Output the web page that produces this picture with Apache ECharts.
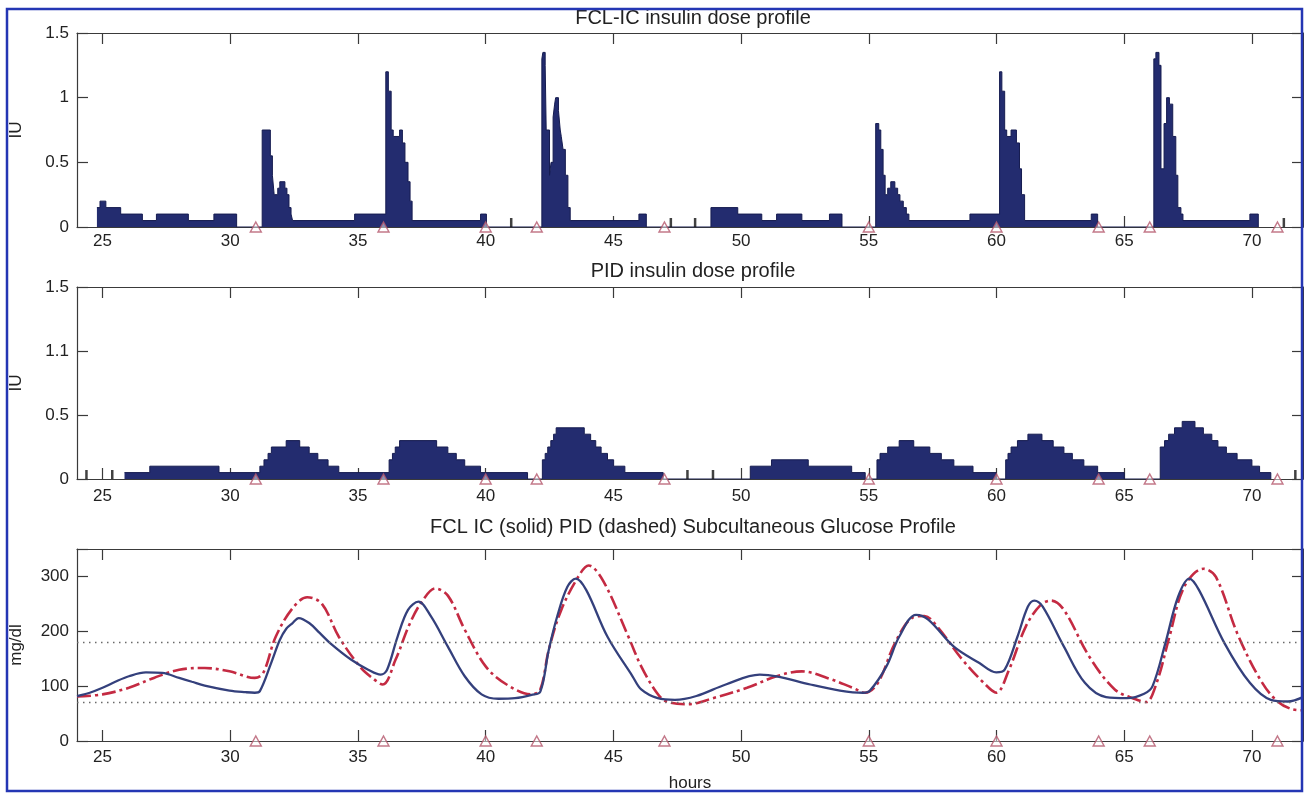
<!DOCTYPE html>
<html>
<head>
<meta charset="utf-8">
<script src="https://cdn.jsdelivr.net/npm/echarts@6/dist/echarts.min.js"></script>
<style>
  html, body { margin: 0; padding: 0; background: #fff; }
  #chart { width: 1304px; height: 793px; }
</style>
</head>
<body>
<div id="chart"></div>
<script>
// 三段图：FCL-IC 胰岛素、PID 胰岛素、皮下血糖
const hourTicks = [25, 30, 35, 40, 45, 50, 55, 60, 65, 70]
const mealTimes = [31, 36, 40, 42, 47, 55, 60, 64, 66, 71]

// FCL-IC dose: step change points (hour, IU)
const fclTimes = [24.78, 24.9, 25.13, 25.71, 26.56, 27.11, 28.36, 29.36, 30.25,
  31.25, 31.57, 31.65, 31.72, 31.86, 31.94, 32.14, 32.22, 32.3, 32.38, 32.44, 34.87,
  36.09, 36.19, 36.3, 36.38, 36.63, 36.74, 36.84, 36.96, 37.04, 37.12, 39.8, 40.03,
  42.2, 42.24, 42.33, 42.37, 42.5, 42.56, 42.64, 42.7, 42.74, 42.85, 42.92, 42.96, 43.03, 43.12, 43.22, 43.31, 46.0, 46.29,
  48.82, 49.87, 50.81, 51.39, 52.38, 53.46, 53.95,
  55.27, 55.39, 55.47, 55.56, 55.64, 55.74, 55.86, 56.02, 56.13, 56.22, 56.35, 56.47, 56.57, 58.96,
  60.12, 60.21, 60.32, 60.4, 60.57, 60.78, 60.9, 60.98, 61.1, 63.71, 63.96,
  66.16, 66.24, 66.36, 66.44, 66.56, 66.66, 66.77, 66.9, 67.02, 67.1, 67.22, 67.3, 69.92, 70.25]
const fclDoses = [0.15, 0.2, 0.15, 0.1, 0.05, 0.1, 0.05, 0.1, 0,
  0.75, 0.55, 0.4, 0.25, 0.3, 0.35, 0.3, 0.25, 0.15, 0.1, 0.05, 0.1,
  1.2, 1.05, 0.75, 0.7, 0.75, 0.65, 0.5, 0.35, 0.2, 0.05, 0.1, 0,
  1.3, 1.35, 1.25, 0.75, 0.4, 0.5, 0.85, 0.95, 1.0, 0.9, 0.75, 0.7, 0.6, 0.4, 0.15, 0.05, 0.1, 0,
  0.15, 0.1, 0.05, 0.1, 0.05, 0.1, 0,
  0.8, 0.75, 0.6, 0.4, 0.25, 0.3, 0.35, 0.3, 0.25, 0.2, 0.15, 0.1, 0.05, 0.1,
  1.2, 1.05, 0.75, 0.7, 0.75, 0.65, 0.45, 0.25, 0.05, 0.1, 0,
  1.3, 1.35, 1.25, 0.45, 0.8, 1.0, 0.95, 0.7, 0.4, 0.15, 0.1, 0.05, 0.1, 0]
const fclMarks = [41.0, 47.25, 48.2, 71.25]

// PID dose: step change points (hour, IU)
const pidTimes = [25.86, 26.85, 29.56, 31.16, 31.32, 31.48, 31.61, 32.19, 32.72, 33.09, 33.43, 33.83, 34.25,
  36.22, 36.35, 36.46, 36.63, 38.08, 38.52, 38.85, 39.18, 39.8, 41.64,
  42.22, 42.33, 42.43, 42.55, 42.66, 42.76, 43.86, 44.11, 44.31, 44.52, 44.77, 45.01, 45.45, 46.95,
  50.36, 51.19, 52.63, 54.33, 54.86,
  55.32, 55.44, 55.74, 56.19, 56.76, 57.39, 57.84, 58.33, 59.08, 59.99,
  60.36, 60.45, 60.57, 60.82, 61.23, 61.78, 62.22, 62.64, 62.97, 63.42, 63.96, 65.0,
  66.41, 66.58, 66.74, 66.97, 67.27, 67.77, 68.1, 68.43, 68.67, 69.0, 69.42, 70.0, 70.3, 70.74]
const pidDoses = [0.05, 0.1, 0.05, 0.1, 0.15, 0.2, 0.25, 0.3, 0.25, 0.2, 0.15, 0.1, 0.05,
  0.15, 0.2, 0.25, 0.3, 0.25, 0.2, 0.15, 0.1, 0.05, 0,
  0.15, 0.2, 0.25, 0.3, 0.35, 0.4, 0.35, 0.3, 0.25, 0.2, 0.15, 0.1, 0.05, 0,
  0.1, 0.15, 0.1, 0.05, 0,
  0.15, 0.2, 0.25, 0.3, 0.25, 0.2, 0.15, 0.1, 0.05, 0,
  0.15, 0.2, 0.25, 0.3, 0.35, 0.3, 0.25, 0.2, 0.15, 0.1, 0.05, 0,
  0.25, 0.3, 0.35, 0.4, 0.45, 0.4, 0.35, 0.3, 0.25, 0.2, 0.15, 0.1, 0.05, 0]
const pidMarks = [24.37, 25.38, 47.9, 48.9, 71.7]

// glucose (mg/dl)
const fclGlucoseTimes = [24.0, 24.5, 25.0, 25.5, 26.03, 26.7, 27.34, 28.0, 28.5, 29.0, 29.97, 30.6, 30.96, 31.16,
  31.6, 31.94, 32.2, 32.44, 32.68, 33.09, 33.5, 33.92, 34.74, 35.4, 35.89, 36.14, 36.55, 36.96, 37.37, 37.86,
  38.52, 39.18, 39.84, 40.5, 41.15, 41.8, 42.14, 42.47, 42.8, 43.2, 43.53, 43.94, 44.77, 45.75, 46.09, 46.74,
  47.41, 48.25, 49.4, 50.73, 51.39, 52.71, 53.87, 54.78, 55.03, 55.69, 56.19, 56.85, 57.34, 58.33, 59.33,
  59.99, 60.32, 60.82, 61.23, 61.48, 61.81, 62.64, 63.46, 64.29, 65.12, 65.78, 66.11, 66.61, 67.11, 67.55,
  67.93, 68.93, 69.92, 70.74, 71.41, 72.0]
const fclGlucose = [82, 88, 97, 108, 118, 125, 124, 115, 108, 101, 92, 89, 88, 91,
  142, 184, 205, 215, 224, 215, 197, 178, 148, 130, 121, 130, 190, 239, 254, 227,
  172, 118, 85, 77, 78, 84, 90, 166, 227, 281, 296, 275, 190, 118, 94, 78,
  75, 82, 103, 121, 118, 103, 92, 88, 91, 136, 190, 230, 221, 172, 142,
  125, 130, 190, 245, 256, 245, 172, 106, 80, 78, 86, 100, 178, 263, 296,
  275, 178, 106, 75, 72, 80]

const pidGlucoseTimes = [24.0, 25.0, 26.03, 27.01, 28.0, 29.0, 29.97, 30.96, 31.29, 31.78, 32.44, 33.01, 33.59,
  34.25, 35.07, 35.56, 35.97, 36.47, 37.04, 37.53, 38.03, 38.52, 39.18, 40.0, 40.82, 41.8, 42.14, 42.47,
  42.96, 43.62, 44.03, 44.6, 45.59, 46.09, 46.7, 47.08, 47.91, 48.9, 50.23, 51.39, 52.38, 53.37, 54.37,
  54.86, 55.36, 56.02, 56.68, 57.18, 57.67, 58.67, 59.5, 59.99, 60.49, 61.15, 61.73, 62.14, 62.64, 63.63,
  64.63, 65.45, 65.86, 66.27, 66.77, 67.35, 68.1, 68.59, 69.42, 70.25, 70.91, 71.57, 72.0]
const pidGlucose = [81, 85, 97, 115, 130, 133, 127, 115, 124, 190, 242, 262, 250,
  190, 136, 115, 103, 148, 215, 256, 278, 265, 203, 136, 103, 85, 94, 166,
  239, 299, 320, 292, 190, 136, 88, 72, 67, 78, 97, 118, 127, 115, 97,
  88, 106, 178, 224, 228, 209, 148, 106, 88, 130, 209, 248, 256, 239, 154,
  94, 76, 71, 106, 190, 281, 314, 299, 197, 118, 76, 58, 56]

const targetRange = [70, 180]
const fclTickLabels = ['0', '0.5', '1', '1.5']
const pidTickLabels = ['0', '0.5', '1.1', '1.5']
const glucoseTicks = [0, 100, 200, 300]

const font = 'Liberation Sans, Arial, Helvetica, sans-serif'
const axisColor = '#3a3a3a'
const navy = '#232c6f'
const zip = (xs, ys) => xs.map((x, i) => [x, ys[i]])

const chart = echarts.init(document.getElementById('chart'), null, { renderer: 'canvas' })

const grids = [
  { left: 75, right: 1, top: 33, height: 194 },
  { left: 75, right: 1, top: 287, height: 192 },
  { left: 75, right: 1, top: 549, height: 193 },
]

const makeX = (gridIndex, margin, name) => [
  {
    type: 'value', gridIndex, min: 24, max: 72, position: 'bottom',
    name: name || '', nameLocation: 'middle', nameGap: 34,
    nameTextStyle: { fontSize: 17, color: '#222', fontFamily: font },
    axisLine: { show: true, onZero: false, lineStyle: { color: axisColor, width: 1.2 } },
    axisTick: { show: true, inside: true, length: 11, customValues: hourTicks, lineStyle: { color: axisColor, width: 1.2 } },
    axisLabel: { show: true, customValues: hourTicks, margin, fontSize: 17, color: '#222', fontFamily: font },
    splitLine: { show: false },
  },
  {
    type: 'value', gridIndex, min: 24, max: 72, position: 'top',
    axisLine: { show: true, onZero: false, lineStyle: { color: axisColor, width: 1.2 } },
    axisTick: { show: true, inside: true, length: 11, customValues: hourTicks, lineStyle: { color: axisColor, width: 1.2 } },
    axisLabel: { show: false },
    splitLine: { show: false },
  },
]

const makeY = (gridIndex, max, interval, name, labels) => [
  {
    type: 'value', gridIndex, min: 0, max, interval, position: 'left',
    name, nameLocation: 'middle', nameGap: 52, nameRotate: 90,
    nameTextStyle: { fontSize: 17, color: '#222', fontFamily: font },
    axisLine: { show: true, onZero: false, lineStyle: { color: axisColor, width: 1.2 } },
    axisTick: { show: true, inside: true, length: 11, lineStyle: { color: axisColor, width: 1.2 } },
    axisLabel: {
      margin: 8, fontSize: 17, color: '#222', fontFamily: font,
      formatter: (v) => {
        const i = Math.round(v / interval)
        return labels[i] !== undefined ? labels[i] : ''
      },
    },
    splitLine: { show: false },
  },
  {
    type: 'value', gridIndex, min: 0, max, interval, position: 'right',
    axisLine: { show: true, onZero: false, lineStyle: { color: axisColor, width: 1.2 } },
    axisTick: { show: true, inside: true, length: 11, lineStyle: { color: axisColor, width: 1.2 } },
    axisLabel: { show: false },
    splitLine: { show: false },
  },
]

const stepBars = (idx, times, doses) => ({
  type: 'line', xAxisIndex: idx, yAxisIndex: idx, step: 'end',
  symbol: 'none', data: zip(times, doses),
  lineStyle: { color: '#161c50', width: 1 },
  areaStyle: { color: navy, opacity: 1 },
  z: 3,
})

const marks = (idx, times) => ({
  type: 'scatter', xAxisIndex: idx, yAxisIndex: idx, clip: false,
  data: times.map((t) => [t, 0]),
  symbol: 'rect', symbolSize: [2.5, 9], symbolOffset: [0, -4.5],
  itemStyle: { color: '#111' }, z: 4,
})

const meals = (idx) => ({
  type: 'scatter', xAxisIndex: idx, yAxisIndex: idx, clip: false,
  data: mealTimes.map((t) => [t, 0]),
  symbol: 'triangle', symbolSize: [11, 10],
  itemStyle: { color: 'rgba(255,255,255,0.6)', borderColor: '#b4566b', borderWidth: 1.4 },
  z: 5,
})

const titleAt = (text, top) => ({
  text, left: 693, top, textAlign: 'center', padding: 0,
  textStyle: { fontSize: 20, fontWeight: 'normal', color: '#222', fontFamily: font },
})

const option = {
  animation: false,
  backgroundColor: '#fff',
  title: [
    titleAt('FCL-IC insulin dose profile', 8),
    titleAt('PID insulin dose profile', 261),
    titleAt('FCL IC (solid) PID (dashed) Subcultaneous Glucose Profile', 517),
  ],
  grid: grids,
  xAxis: [...makeX(0, 6), ...makeX(1, 9), ...makeX(2, 8, 'hours')],
  yAxis: [
    ...makeY(0, 1.5, 0.5, 'IU', fclTickLabels),
    ...makeY(1, 1.5, 0.5, 'IU', pidTickLabels),
    ...makeY(2, 350, 100, 'mg/dl', glucoseTicks.map(String)),
  ],
  series: [
    stepBars(0, fclTimes, fclDoses),
    marks(0, fclMarks),
    meals(0),
    stepBars(2, pidTimes, pidDoses),
    marks(2, pidMarks),
    meals(2),
    {
      type: 'line', xAxisIndex: 4, yAxisIndex: 4, symbol: 'none',
      smooth: 0.35,
      data: zip(pidGlucoseTimes, pidGlucose),
      lineStyle: { color: '#c42a42', width: 2.6, type: [14, 4, 3, 4] },
      z: 3,
    },
    {
      type: 'line', xAxisIndex: 4, yAxisIndex: 4, symbol: 'none',
      smooth: 0.35,
      data: zip(fclGlucoseTimes, fclGlucose),
      lineStyle: { color: '#34407c', width: 2.3 },
      markLine: {
        silent: true, symbol: ['none', 'none'], label: { show: false },
        lineStyle: { color: '#6a6a6a', width: 1.3, type: [1.5, 4.5] },
        data: targetRange.map((v) => ({ yAxis: v })),
      },
      z: 4,
    },
    meals(4),
  ],
  graphic: [
    {
      type: 'rect', z: 100, silent: true,
      shape: { x: 7, y: 9, width: 1295, height: 782 },
      style: { fill: 'none', stroke: '#2436b4', lineWidth: 2.5 },
    },
  ],
}

chart.setOption(option)
</script>
</body>
</html>
